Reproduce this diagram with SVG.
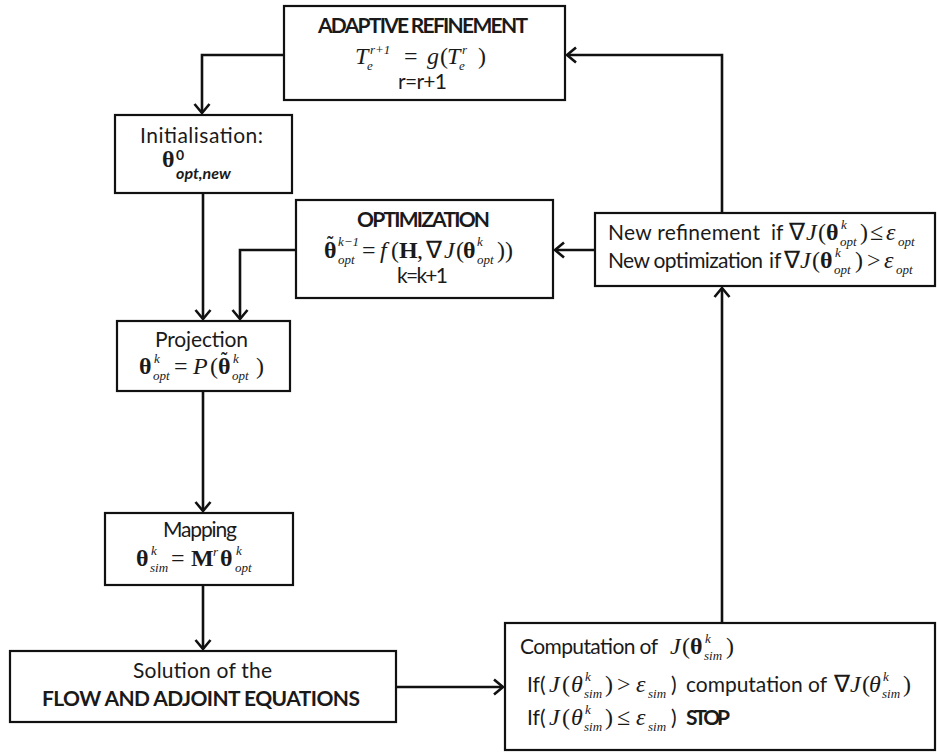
<svg xmlns="http://www.w3.org/2000/svg" width="937" height="753" viewBox="0 0 937 753">
<style>
.box{fill:#fff;stroke:#111;stroke-width:2.2}
.t{font-family:Lato,"Liberation Sans",sans-serif;font-size:21px;fill:#1a1a1a}
.b{font-weight:bold}
.m{font-family:"Liberation Serif",serif;font-style:italic;font-size:24px;fill:#1a1a1a}
.n{font-style:normal}
.th{font-style:normal;font-weight:bold}
.tl{font-style:normal;font-weight:bold;font-size:19px}
.s{font-size:13px;font-style:italic;font-weight:normal}
.edge{stroke:#111;stroke-width:2.6;fill:none;marker-end:url(#arr)}
</style>
<defs>
<marker id="arr" markerUnits="userSpaceOnUse" markerWidth="14" markerHeight="20" viewBox="-11 -10 13 20" refX="0" refY="0" orient="auto">
<path d="M-9,-7.5 L0,0 L-9,7.5" fill="none" stroke="#111" stroke-width="2.6"/>
</marker>
</defs>
<rect width="937" height="753" fill="#fff"/>

<g id="connectors">
<path class="edge" d="M284,55 H202 V113"/>
<path class="edge" d="M203,193 V319"/>
<path class="edge" d="M296,250 H240 V319"/>
<path class="edge" d="M203,391 V511"/>
<path class="edge" d="M203,585 V649"/>
<path class="edge" d="M396,687 H503"/>
<path class="edge" d="M722,623 V288"/>
<path class="edge" d="M595,250 H555"/>
<path class="edge" d="M722,213 V55 H567"/>
</g>

<g id="adaptive">
<rect class="box" x="284" y="6" width="281" height="94"/>
<text class="t b" x="318" y="33" font-size="17.5" textLength="210">ADAPTIVE REFINEMENT</text>
<text class="m" font-size="22"><tspan x="355" y="64">T</tspan><tspan class="s" x="367" y="70">e</tspan><tspan class="s" x="370" y="54">r+1</tspan><tspan class="n" x="404" y="64">=</tspan><tspan x="427" y="64">g</tspan><tspan class="n" x="440" y="64">(</tspan><tspan x="447" y="64">T</tspan><tspan class="s" x="459" y="70">e</tspan><tspan class="s" x="462" y="54">r</tspan><tspan class="n" x="478" y="64">)</tspan></text>
<text class="t" x="398" y="89" font-size="18" textLength="49">r=r+1</text>
</g>

<g id="init">
<rect class="box" x="115" y="115" width="177" height="78"/>
<text class="t" x="140" y="143" textLength="123">Initialisation:</text>
<text class="m"><tspan class="th" x="162" y="167">θ</tspan><tspan font-family="Lato,sans-serif" font-weight="bold" font-style="normal" font-size="14" x="176" y="160">0</tspan><tspan font-family="Lato,sans-serif" font-weight="bold" font-size="16" x="176" y="179">opt,new</tspan></text>
</g>

<g id="optimization">
<rect class="box" x="296" y="200" width="257" height="98"/>
<text class="t b" x="357" y="227" font-size="17.5" textLength="133">OPTIMIZATION</text>
<text class="m"><tspan class="th" x="324" y="258">θ</tspan><tspan class="tl" x="327" y="249">˜</tspan><tspan class="s" x="338" y="264">opt</tspan><tspan class="s" x="338" y="246">k−1</tspan><tspan class="n" x="362" y="258">=</tspan><tspan x="380" y="258">f</tspan><tspan class="n" x="391" y="258">(</tspan><tspan class="th" x="399" y="258">H</tspan><tspan class="n" x="417" y="258">,</tspan><tspan class="n" x="426" y="258">∇</tspan><tspan x="444" y="258">J</tspan><tspan class="n" x="456" y="258">(</tspan><tspan class="th" x="463" y="258">θ</tspan><tspan class="s" x="477" y="264">opt</tspan><tspan class="s" x="477" y="246">k</tspan><tspan class="n" x="497" y="258">))</tspan></text>
<text class="t" x="397" y="283" font-size="19" textLength="51">k=k+1</text>
</g>

<g id="newref">
<rect class="box" x="595" y="213" width="340" height="73"/>
<text class="t"><tspan x="608" y="240" textLength="152">New refinement</tspan><tspan x="771" y="240">if</tspan></text>
<text class="m" font-size="23"><tspan class="n" x="789" y="240">∇</tspan><tspan x="806" y="240">J</tspan><tspan class="n" x="818" y="240">(</tspan><tspan class="th" x="826" y="240">θ</tspan><tspan class="s" x="840" y="246">opt</tspan><tspan class="s" x="841" y="229">k</tspan><tspan class="n" x="860" y="240">)</tspan><tspan class="n" x="870" y="240">≤</tspan><tspan x="886" y="240">ε</tspan><tspan class="s" x="898" y="246">opt</tspan></text>
<text class="t"><tspan x="608" y="268" textLength="155">New optimization</tspan><tspan x="769" y="268">if</tspan></text>
<text class="m" font-size="23"><tspan class="n" x="784" y="268">∇</tspan><tspan x="800" y="268">J</tspan><tspan class="n" x="812" y="268">(</tspan><tspan class="th" x="820" y="268">θ</tspan><tspan class="s" x="834" y="274">opt</tspan><tspan class="s" x="835" y="257">k</tspan><tspan class="n" x="855" y="268">)</tspan><tspan class="n" x="867" y="268">&gt;</tspan><tspan x="884" y="268">ε</tspan><tspan class="s" x="896" y="274">opt</tspan></text>
</g>

<g id="projection">
<rect class="box" x="117" y="321" width="173" height="70"/>
<text class="t" x="155" y="347" textLength="93">Projection</text>
<text class="m"><tspan class="th" x="139" y="374">θ</tspan><tspan class="s" x="153" y="380">opt</tspan><tspan class="s" x="154" y="363">k</tspan><tspan class="n" x="174" y="374">=</tspan><tspan x="193" y="374">P</tspan><tspan class="n" x="210" y="374">(</tspan><tspan class="th" x="218" y="374">θ</tspan><tspan class="tl" x="221" y="365">˜</tspan><tspan class="s" x="232" y="380">opt</tspan><tspan class="s" x="233" y="363">k</tspan><tspan class="n" x="256" y="374">)</tspan></text>
</g>

<g id="mapping">
<rect class="box" x="105" y="513" width="188" height="72"/>
<text class="t" x="163" y="537" textLength="74">Mapping</text>
<text class="m"><tspan class="th" x="136" y="566">θ</tspan><tspan class="s" x="150" y="572">sim</tspan><tspan class="s" x="151" y="555">k</tspan><tspan class="n" x="171" y="566">=</tspan><tspan class="th" x="191" y="566">M</tspan><tspan class="s" x="213" y="556">r</tspan><tspan class="th" x="220" y="566">θ</tspan><tspan class="s" x="235" y="572">opt</tspan><tspan class="s" x="236" y="555">k</tspan></text>
</g>

<g id="solution">
<rect class="box" x="10" y="651" width="386" height="71"/>
<text class="t" x="133" y="678" textLength="139">Solution of the</text>
<text class="t b" x="42" y="706" font-size="19" textLength="318">FLOW AND ADJOINT EQUATIONS</text>
</g>

<g id="computation">
<rect class="box" x="505" y="623" width="430" height="127"/>
<text class="t" x="520" y="654" textLength="138">Computation of</text>
<text class="m"><tspan x="670" y="654">J</tspan><tspan class="n" x="682" y="654">(</tspan><tspan class="th" x="690" y="654">θ</tspan><tspan class="s" x="704" y="660">sim</tspan><tspan class="s" x="705" y="643">k</tspan><tspan class="n" x="726" y="654">)</tspan></text>

<text class="t"><tspan x="527" y="692">If(</tspan><tspan x="671" y="692">)</tspan><tspan x="686" y="692" textLength="141">computation of</tspan></text>
<text class="m"><tspan x="549" y="692">J</tspan><tspan class="n" x="562" y="692">(</tspan><tspan x="571" y="692">θ</tspan><tspan class="s" x="584" y="698">sim</tspan><tspan class="s" x="585" y="681">k</tspan><tspan class="n" x="605" y="692">)</tspan><tspan class="n" x="617" y="692">&gt;</tspan><tspan x="636" y="692">ε</tspan><tspan class="s" x="648" y="698">sim</tspan><tspan class="n" x="834" y="692">∇</tspan><tspan x="850" y="692">J</tspan><tspan class="n" x="862" y="692">(</tspan><tspan x="869" y="692">θ</tspan><tspan class="s" x="882" y="698">sim</tspan><tspan class="s" x="883" y="681">k</tspan><tspan class="n" x="903" y="692">)</tspan></text>

<text class="t"><tspan x="527" y="725">If(</tspan><tspan x="671" y="725">)</tspan><tspan class="b" x="686" y="725" textLength="44">STOP</tspan></text>
<text class="m"><tspan x="549" y="725">J</tspan><tspan class="n" x="562" y="725">(</tspan><tspan x="571" y="725">θ</tspan><tspan class="s" x="584" y="731">sim</tspan><tspan class="s" x="585" y="714">k</tspan><tspan class="n" x="605" y="725">)</tspan><tspan class="n" x="617" y="725">≤</tspan><tspan x="636" y="725">ε</tspan><tspan class="s" x="648" y="731">sim</tspan></text>
</g>
</svg>
